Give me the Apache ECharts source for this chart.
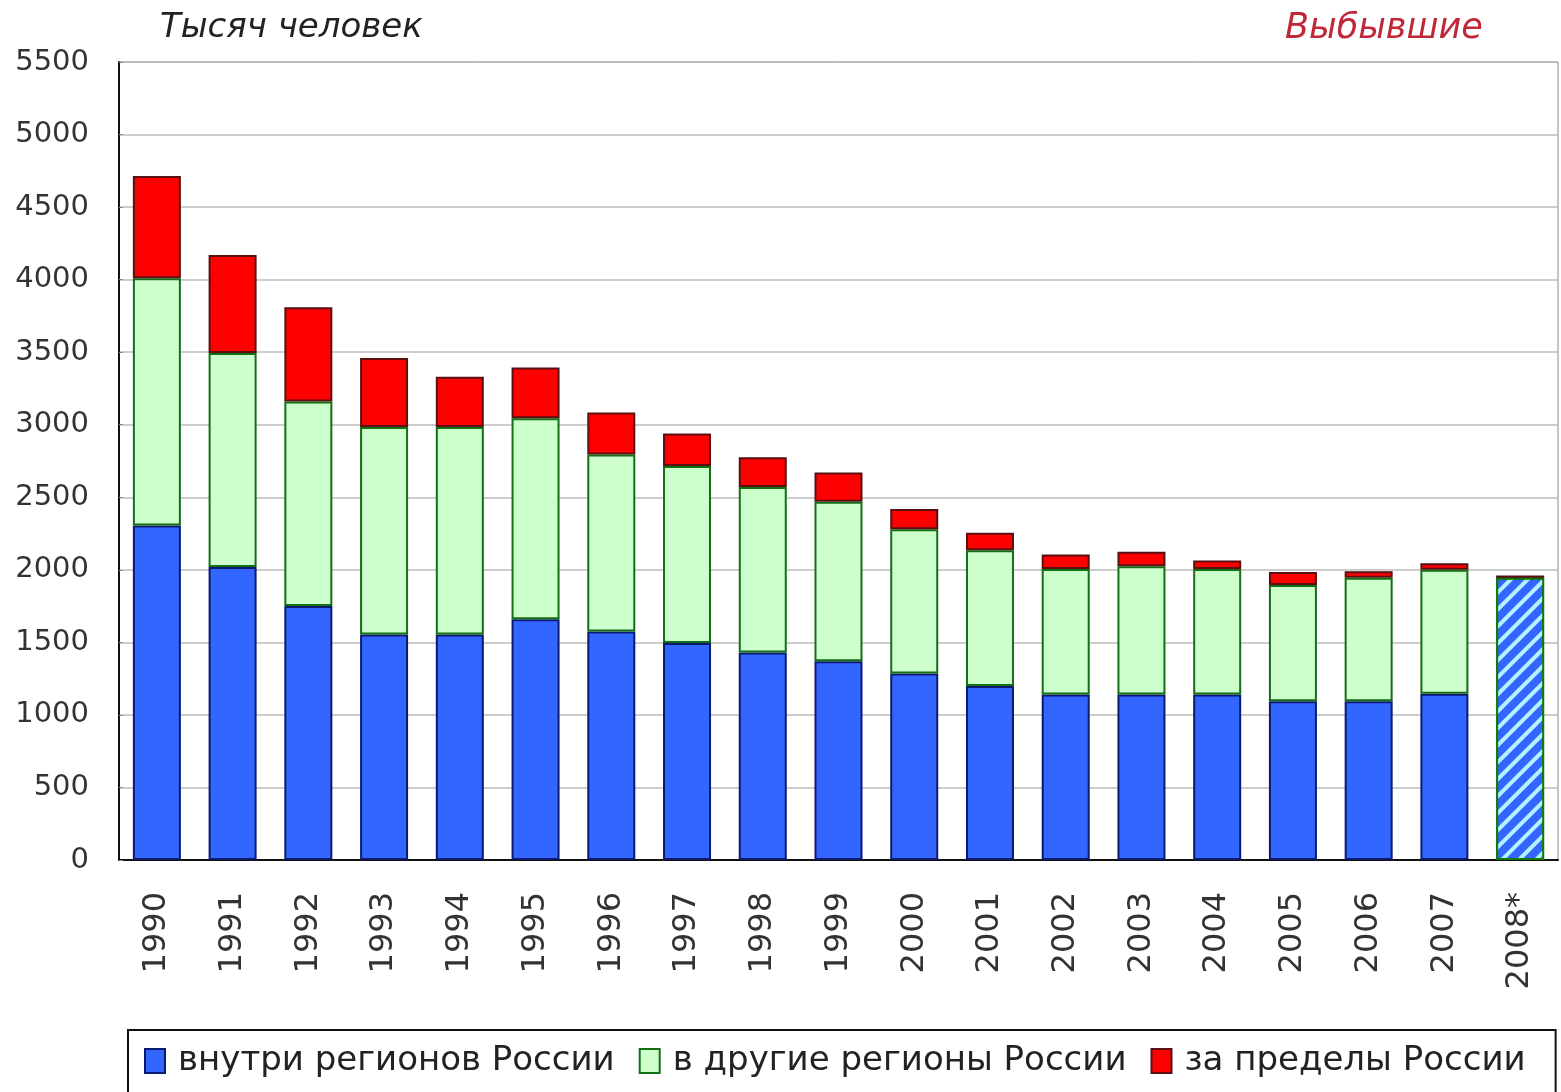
<!DOCTYPE html>
<html>
<head>
<meta charset="utf-8">
<script src="https://cdn.jsdelivr.net/npm/echarts@6/dist/echarts.min.js"></script>
<style>
  html, body { margin: 0; padding: 0; background: #fff; }
  #chart { width: 1561px; height: 1092px; }
</style>
</head>
<body>
<div id="chart"></div>
<script>
// годы
var years = ['1990', '1991', '1992', '1993', '1994', '1995', '1996', '1997', '1998', '1999',
             '2000', '2001', '2002', '2003', '2004', '2005', '2006', '2007', '2008*'];
// выбывшие, тыс. человек
var vnutri  = [2305, 2020, 1750, 1555, 1555, 1660, 1575, 1495, 1430, 1370, 1285, 1200, 1140, 1140, 1140, 1095, 1095, 1145, 1945];
var drugie  = [1705, 1475, 1410, 1430, 1430, 1385, 1220, 1220, 1140, 1100,  995,  935,  865,  885,  865,  800,  850,  855,    0];
var zaPredel = [705,  675,  650,  475,  345,  350,  290,  225,  205,  200,  140,  120,  100,  100,   60,   90,   45,   45,   15];
var yTicks = [0, 500, 1000, 1500, 2000, 2500, 3000, 3500, 4000, 4500, 5000, 5500];

var FONT = 'DejaVu Sans';

// 2008* - оценка, штриховка
var vnutriData = vnutri.map(function (v, i) {
    if (i == years.length - 1) {
        return {
            value: v,
            itemStyle: {
                color: '#3366ff',
                borderColor: '#107a10',
                borderWidth: 2,
                decal: {
                    symbol: 'rect',
                    dashArrayX: [1, 0],
                    dashArrayY: [4, 8],
                    rotation: -Math.PI / 4,
                    color: '#b4f0ff'
                }
            }
        };
    }
    return v;
});

var chart = echarts.init(document.getElementById('chart'));

chart.setOption({
    backgroundColor: '#fff',
    animation: false,
    title: [{
        text: 'Тысяч человек',
        left: 155, top: 6,
        textStyle: { fontFamily: FONT, fontSize: 34, fontStyle: 'italic', fontWeight: 'normal', color: '#222' }
    }, {
        text: 'Выбывшие',
        left: 1280, top: 6,
        textStyle: { fontFamily: FONT, fontSize: 35, fontStyle: 'italic', fontWeight: 'normal', color: '#c0283a' }
    }],
    grid: {
        left: 119, right: 3, top: 62, height: 798,
        show: true, borderColor: '#888', borderWidth: 1
    },
    legend: {
        left: 128, top: 1030,
        padding: [14, 30, 40, 16],
        borderColor: '#111', borderWidth: 2,
        itemWidth: 20, itemHeight: 24, itemGap: 24,
        icon: 'rect',
        textStyle: { fontFamily: FONT, fontSize: 34, color: '#222', padding: [0, 0, 0, 8] },
        data: ['внутри регионов России', 'в другие регионы России', 'за пределы России']
    },
    xAxis: {
        type: 'category',
        data: years,
        axisLine: { lineStyle: { color: '#111', width: 2 } },
        axisTick: { show: false },
        axisLabel: { rotate: 90, margin: 32, fontFamily: FONT, fontSize: 32, color: '#333' }
    },
    yAxis: {
        type: 'value',
        min: 0, max: 5500, interval: 500,
        axisLine: { show: true, lineStyle: { color: '#111', width: 2 } },
        axisTick: { show: true, inside: true, length: 4, lineStyle: { color: '#888' } },
        splitLine: { lineStyle: { color: '#bdbdbd', width: 1.5 } },
        axisLabel: {
            margin: 30, fontFamily: FONT, fontSize: 29, color: '#333',
            formatter: function (v) { return yTicks.indexOf(v) >= 0 ? String(v) : ''; }
        }
    },
    series: [{
        name: 'внутри регионов России',
        type: 'bar', stack: 'all', barWidth: 48,
        itemStyle: { color: '#3366ff', borderColor: '#0a1a70', borderWidth: 2 },
        data: vnutriData
    }, {
        name: 'в другие регионы России',
        type: 'bar', stack: 'all', barWidth: 48,
        itemStyle: { color: '#ccffcc', borderColor: '#146e14', borderWidth: 2 },
        data: drugie
    }, {
        name: 'за пределы России',
        type: 'bar', stack: 'all', barWidth: 48,
        itemStyle: { color: '#ff0000', borderColor: '#5a1010', borderWidth: 2 },
        data: zaPredel
    }]
});
</script>
</body>
</html>
